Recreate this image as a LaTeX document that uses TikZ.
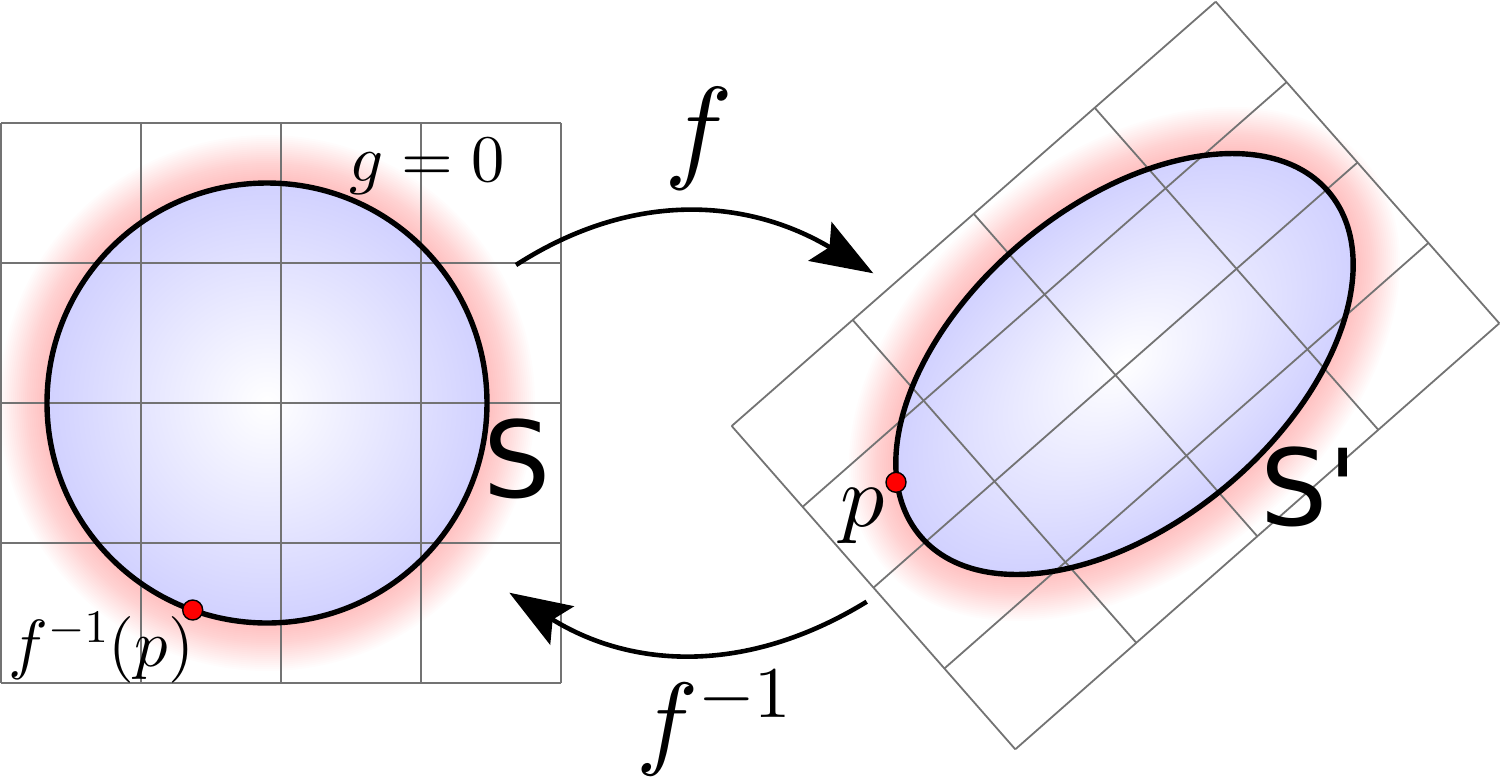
\RequirePackage{fix-cm}
\documentclass[tikz,border=0pt]{standalone}
\usepackage[no-math]{fontspec}
\newfontfamily\dejavu{DejaVu Sans}
\DeclareFontFamily{OT1}{cmrX}{}
\DeclareFontShape{OT1}{cmrX}{m}{n}{<-> cmr10}{}
\DeclareFontFamily{OML}{cmmX}{\skewchar\font'177}
\DeclareFontShape{OML}{cmmX}{m}{it}{<-> cmmi10}{}
\DeclareFontFamily{OMS}{cmsyX}{\skewchar\font'60}
\DeclareFontShape{OMS}{cmsyX}{m}{n}{<-> cmsy10}{}
\DeclareSymbolFont{operators}{OT1}{cmrX}{m}{n}
\DeclareSymbolFont{letters}{OML}{cmmX}{m}{it}
\DeclareSymbolFont{symbols}{OMS}{cmsyX}{m}{n}
\usetikzlibrary{arrows.meta,calc}
\begin{document}
\begin{tikzpicture}[x=0.5pt,y=0.5pt,
  gridline/.style={draw=black!55, line width=0.9pt},
  outline/.style={draw=black, line width=2.7pt},
  maparrow/.style={draw=black, line width=2.3pt, -{Stealth[length=31pt,width=22.5pt,inset=5.5pt]}},
  pointdot/.style={circle, fill=red, draw=black, line width=0.7pt, minimum size=10pt, inner sep=0pt},
  lbl/.style={inner sep=0pt, outer sep=0pt},
  glowlayer/.style={fill=red, fill opacity=0.012}
]
\useasboundingbox (0,-778) rectangle (1501,0);

% ---------- left: circle S ----------
\coordinate (Cl) at (267,-403);
\foreach \k in {1,...,24} \fill[glowlayer] (Cl) circle ({220+2*\k});
\shade[inner color=white, outer color=blue!18] (Cl) circle (220);
\foreach \i in {0,...,4} {
  \draw[gridline] ({1+139.9*\i},-123.3) -- ({1+139.9*\i},-682.7);
  \draw[gridline] (1,{-123.3-139.85*\i}) -- (560.6,{-123.3-139.85*\i});
}
\draw[outline] (Cl) circle (220);
\node[pointdot] (dotL) at (192.7,-610) {};

% ---------- right: ellipse S' ----------
\coordinate (Cr) at (1124.5,-364);
\foreach \k in {1,...,24} \fill[glowlayer, rotate around={40:(Cr)}] (Cr) ellipse ({267+2*\k} and {159+2*\k});
\begin{scope}[transform canvas={shift={(1124.5,-364)}, rotate=40}]
  \shade[inner color=white, outer color=blue!18] (0,0) ellipse (267 and 159);
\end{scope}
\coordinate (L) at (731.7,-426);
\coordinate (T) at (1215.7,-1.7);
\coordinate (R) at (1499.3,-323.3);
\coordinate (B) at (1015.3,-749.3);
\foreach \i in {0,...,4} {
  \draw[gridline] ($(L)!\i/4!(B)$) -- ($(T)!\i/4!(R)$);
  \draw[gridline] ($(L)!\i/4!(T)$) -- ($(B)!\i/4!(R)$);
}
\draw[outline, rotate around={40:(Cr)}] (Cr) ellipse (267 and 159);
\node[pointdot] (dotR) at (896,-482.3) {};

% ---------- labels ----------
\node[lbl, anchor=base west, font=\fontsize{33.3}{40}\selectfont] (gzero) at (349,-181) {$g=0$};
\node[lbl, anchor=base west, font=\dejavu\fontsize{53}{60}\selectfont] (Slabel) at (483,-497) {S};
\node[lbl, anchor=base west, font=\dejavu\fontsize{53}{60}\selectfont] (Splabel) at (1260.7,-525) {S\textquotesingle};
\node[lbl, anchor=base west, font=\fontsize{44}{50}\selectfont] (plabel) at (840,-526) {$p$};
\node[lbl, anchor=base west, font=\fontsize{33.3}{40}\selectfont] (prelabel) at (8.5,-666.5) {$f^{-1}(p)$};
\node[lbl, anchor=base, font=\fontsize{57.5}{60}\selectfont] (flabel) at (698.6,-167.4) {$f$};
\node[lbl, anchor=base west, font=\fontsize{52}{60}\selectfont] (finvlabel) at (636,-755) {$f^{-1}$};

% ---------- arrows ----------
\coordinate (fstart) at (516,-265);
\coordinate (fend) at (873.3,-273.3);
\draw[maparrow] (fstart) .. controls (635.8,-188) and (750.7,-200) .. (fend);
\coordinate (gstart) at (866.7,-601.7);
\coordinate (gend) at (509.3,-592.7);
\draw[maparrow] (gstart) .. controls (745.5,-676) and (630.5,-668) .. (gend);
\end{tikzpicture}
\end{document}
